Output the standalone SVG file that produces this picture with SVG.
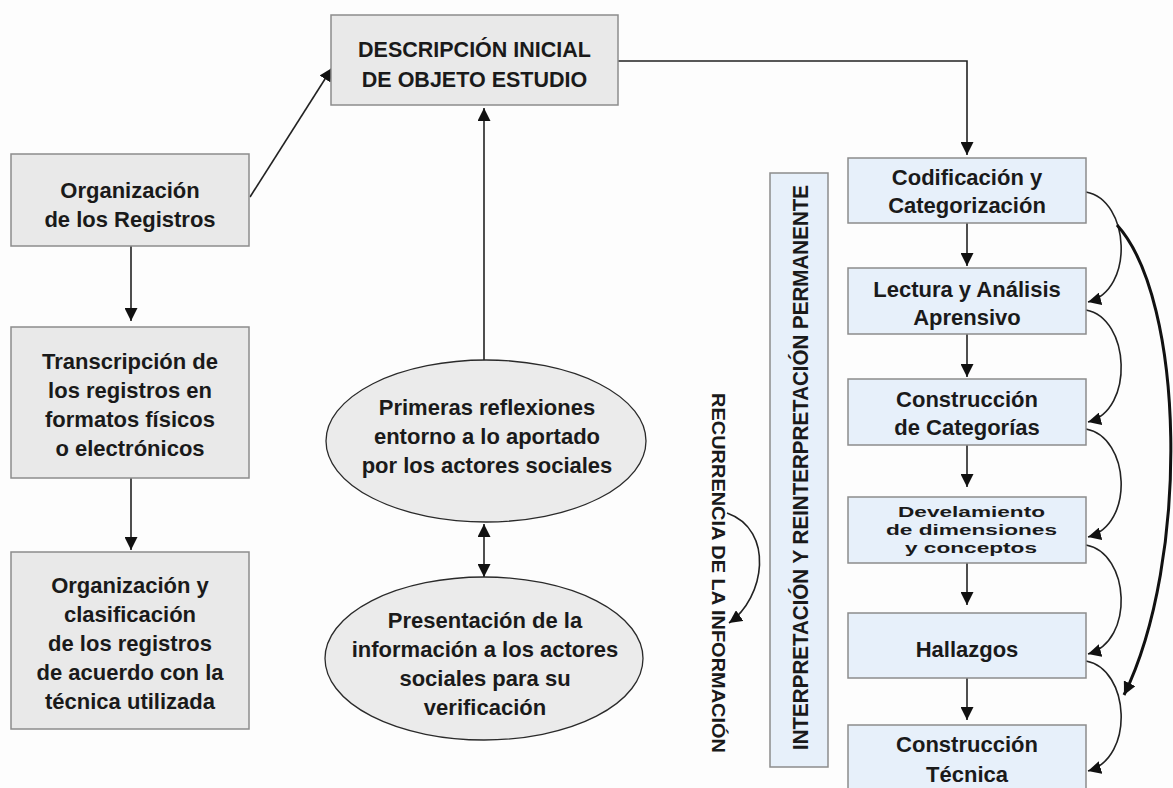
<svg xmlns="http://www.w3.org/2000/svg" width="1173" height="788" viewBox="0 0 1173 788">
<defs>
<style>
.gbox{fill:#e9e9e9;stroke:#8c8c8c;stroke-width:1.5}
.bbox{fill:#e7f0fa;stroke:#8c8c8c;stroke-width:1.5}
.ell{fill:#ebebeb;stroke:#2a2a2a;stroke-width:1.3}
.t{font-family:"Liberation Sans",Arial,sans-serif;font-weight:bold;font-size:22px;fill:#1a1a1a;text-anchor:middle}
.c{fill:none;stroke:#222;stroke-width:1.6}
.thick{fill:none;stroke:#111;stroke-width:3}
</style>
<marker id="ah" viewBox="0 0 10 10" refX="10" refY="5" markerWidth="13" markerHeight="13" markerUnits="userSpaceOnUse" orient="auto-start-reverse">
<path d="M0,0 L10,5 L0,10 z" fill="#111"/>
</marker>
</defs>
<rect width="1173" height="788" fill="#fdfdfd"/>

<g id="connectors">
<path class="c" d="M250,197 L332,68" marker-end="url(#ah)"/>
<path class="c" d="M618,61 H967 V155" marker-end="url(#ah)"/>
<path class="c" d="M131,246 V321" marker-end="url(#ah)"/>
<path class="c" d="M131,478 V550" marker-end="url(#ah)"/>
<path class="c" d="M484,360 V108" marker-end="url(#ah)"/>
<path class="c" d="M484,524 V577" marker-start="url(#ah)" marker-end="url(#ah)"/>
<path class="c" d="M727,513 C775,530 765,598 729,623" marker-end="url(#ah)"/>
<path class="c" d="M967,223 V266" marker-end="url(#ah)"/>
<path class="c" d="M967,334 V377" marker-end="url(#ah)"/>
<path class="c" d="M967,445 V487" marker-end="url(#ah)"/>
<path class="c" d="M967,563 V605" marker-end="url(#ah)"/>
<path class="c" d="M967,678 V720" marker-end="url(#ah)"/>
<path class="c" d="M1086,192 C1130,200 1135,290 1088,302" marker-end="url(#ah)"/>
<path class="c" d="M1086,310 C1130,318 1135,410 1088,422" marker-end="url(#ah)"/>
<path class="c" d="M1086,429 C1130,437 1135,525 1088,537" marker-end="url(#ah)"/>
<path class="c" d="M1086,545 C1130,553 1135,641 1088,654" marker-end="url(#ah)"/>
<path class="c" d="M1086,661 C1130,669 1135,758 1088,771" marker-end="url(#ah)"/>
<path class="thick" d="M1117,225 C1185,300 1190,560 1124,695" marker-end="url(#ah)"/>
</g>

<g id="n-descripcion">
<rect class="gbox" x="331" y="15" width="287" height="90"/>
<text class="t" style="font-size:21.5px" x="474.5" y="57">DESCRIPCIÓN INICIAL</text>
<text class="t" style="font-size:21.5px" x="474.5" y="87">DE OBJETO ESTUDIO</text>
</g>

<g id="n-organizacion">
<rect class="gbox" x="11" y="154" width="238" height="92"/>
<text class="t" x="130" y="198">Organización</text>
<text class="t" x="130" y="227">de los Registros</text>
</g>

<g id="n-transcripcion">
<rect class="gbox" x="11" y="327" width="238" height="151"/>
<text class="t" x="130" y="369">Transcripción de</text>
<text class="t" x="130" y="398">los registros en</text>
<text class="t" x="130" y="427">formatos físicos</text>
<text class="t" x="130" y="456">o electrónicos</text>
</g>

<g id="n-clasificacion">
<rect class="gbox" x="11" y="552" width="238" height="177"/>
<text class="t" x="130" y="593">Organización y</text>
<text class="t" x="130" y="622">clasificación</text>
<text class="t" x="130" y="651">de los registros</text>
<text class="t" x="130" y="680">de acuerdo con la</text>
<text class="t" x="130" y="709">técnica utilizada</text>
</g>

<g id="n-reflexiones">
<ellipse class="ell" cx="486" cy="441" rx="160" ry="81"/>
<text class="t" x="487" y="415">Primeras reflexiones</text>
<text class="t" x="487" y="444">entorno a lo aportado</text>
<text class="t" x="487" y="473">por los actores sociales</text>
</g>

<g id="n-presentacion">
<ellipse class="ell" cx="484" cy="658.5" rx="159" ry="81.5"/>
<text class="t" x="485" y="628">Presentación de la</text>
<text class="t" x="485" y="657">información a los actores</text>
<text class="t" x="485" y="686">sociales para su</text>
<text class="t" x="485" y="715">verificación</text>
</g>

<g id="n-recurrencia">
<text class="t" style="font-size:19px;text-anchor:start" transform="translate(712,393) rotate(90)" x="0" y="0" textLength="360" lengthAdjust="spacingAndGlyphs">RECURRENCIA DE LA INFORMACIÓN</text>
</g>

<g id="n-interpretacion">
<rect class="bbox" x="770" y="173" width="58" height="594"/>
<text class="t" style="text-anchor:start" transform="translate(808,467.5) rotate(-90)" x="-282.5" y="0" textLength="565" lengthAdjust="spacingAndGlyphs">INTERPRETACIÓN Y REINTERPRETACIÓN PERMANENTE</text>
</g>

<g id="n-codificacion">
<rect class="bbox" x="848" y="158" width="238" height="65"/>
<text class="t" x="967" y="185">Codificación y</text>
<text class="t" x="967" y="213">Categorización</text>
</g>

<g id="n-lectura">
<rect class="bbox" x="848" y="268" width="238" height="66"/>
<text class="t" x="967" y="297">Lectura y Análisis</text>
<text class="t" x="967" y="325">Aprensivo</text>
</g>

<g id="n-construccion-cat">
<rect class="bbox" x="848" y="379" width="238" height="66"/>
<text class="t" x="967" y="407">Construcción</text>
<text class="t" x="967" y="435">de Categorías</text>
</g>

<g id="n-develamiento">
<rect class="bbox" x="848" y="497" width="238" height="66"/>
<text class="t" style="font-size:15.5px;text-anchor:start" x="898" y="517" textLength="147" lengthAdjust="spacingAndGlyphs">Develamiento</text>
<text class="t" style="font-size:15.5px;text-anchor:start" x="886" y="535" textLength="171" lengthAdjust="spacingAndGlyphs">de dimensiones</text>
<text class="t" style="font-size:15.5px;text-anchor:start" x="905" y="553" textLength="132" lengthAdjust="spacingAndGlyphs">y conceptos</text>
</g>

<g id="n-hallazgos">
<rect class="bbox" x="848" y="613" width="238" height="65"/>
<text class="t" x="967" y="657">Hallazgos</text>
</g>

<g id="n-construccion-tec">
<rect class="bbox" x="848" y="725" width="238" height="75"/>
<text class="t" x="967" y="752">Construcción</text>
<text class="t" x="967" y="782">Técnica</text>
</g>
</svg>
